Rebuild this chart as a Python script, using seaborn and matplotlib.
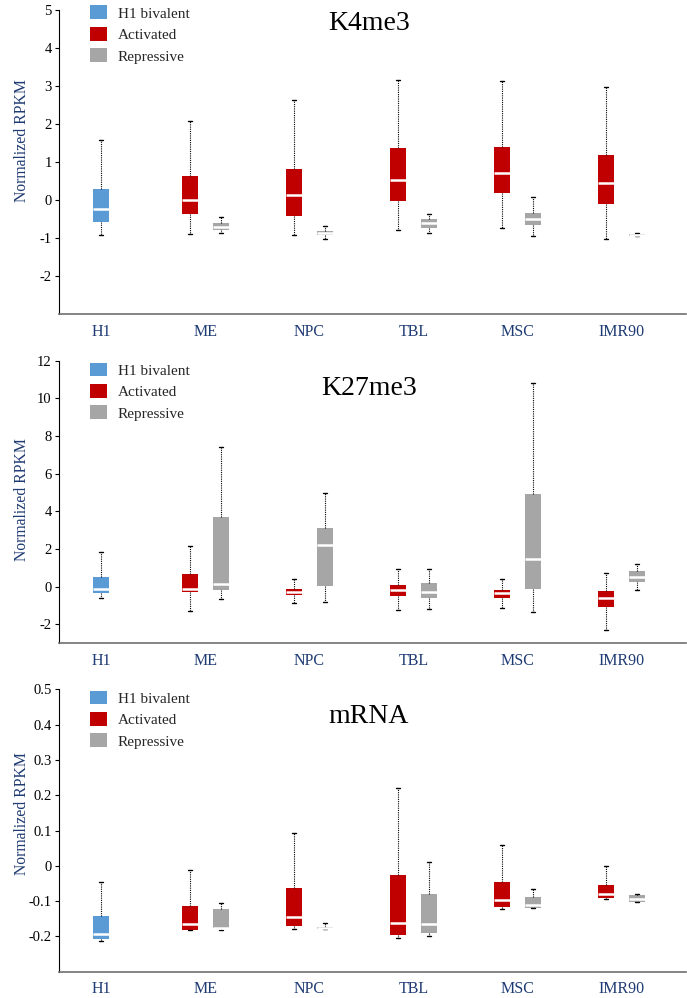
import numpy as np
import pandas as pd
import matplotlib
matplotlib.use("Agg")
import matplotlib.pyplot as plt
from matplotlib.patches import Patch
import seaborn as sns

# ---------------- data ----------------
CELLS = ["H1", "ME", "NPC", "TBL", "MSC", "IMR90"]
DIFF_CELLS = ["ME", "NPC", "TBL", "MSC", "IMR90"]
TYPES = ["H1 bivalent", "Activated", "Repressive"]
COLORS = ["#5B9BD5", "#C00000", "#A6A6A6"]
TITLES = ["K4me3", "K27me3", "mRNA"]

# five-number summaries: [lower whisker, Q1, median, Q3, upper whisker]
K4_H1 = [-0.91, -0.57, -0.24, 0.29, 1.57]
K4_ACT = [[-0.89, -0.37, 0.00, 0.63, 2.08],
          [-0.91, -0.41, 0.14, 0.81, 2.62],
          [-0.79, -0.02, 0.52, 1.36, 3.15],
          [-0.74, 0.19, 0.71, 1.39, 3.14],
          [-1.02, -0.10, 0.45, 1.18, 2.97]]
K4_REP = [[-0.87, -0.78, -0.70, -0.60, -0.44],
          [-1.03, -0.91, -0.86, -0.81, -0.69],
          [-0.87, -0.73, -0.61, -0.50, -0.37],
          [-0.95, -0.67, -0.50, -0.34, 0.09],
          [-0.96, -0.94, -0.91, -0.89, -0.88]]

K27_H1 = [-0.60, -0.35, -0.14, 0.53, 1.87]
K27_ACT = [[-1.29, -0.30, -0.11, 0.69, 2.17],
           [-0.87, -0.46, -0.30, -0.11, 0.41],
           [-1.24, -0.51, -0.18, 0.11, 0.92],
           [-1.11, -0.57, -0.35, -0.16, 0.41],
           [-2.28, -1.08, -0.60, -0.21, 0.71]]
K27_REP = [[-0.67, -0.19, 0.14, 3.71, 7.44],
           [-0.81, 0.02, 2.23, 3.13, 4.97],
           [-1.18, -0.62, -0.27, 0.21, 0.97],
           [-1.34, -0.12, 1.48, 4.93, 10.83],
           [-0.16, 0.23, 0.51, 0.85, 1.20]]

MRNA_H1 = [-0.212, -0.207, -0.193, -0.142, -0.045]
MRNA_ACT = [[-0.183, -0.181, -0.165, -0.114, -0.012],
            [-0.179, -0.171, -0.145, -0.063, 0.092],
            [-0.204, -0.196, -0.163, -0.026, 0.220],
            [-0.121, -0.116, -0.098, -0.046, 0.059],
            [-0.094, -0.090, -0.080, -0.054, -0.001]]
MRNA_REP = [[-0.181, -0.177, -0.176, -0.122, -0.104],
            [-0.180, -0.178, -0.176, -0.172, -0.162],
            [-0.200, -0.190, -0.165, -0.080, 0.010],
            [-0.120, -0.119, -0.112, -0.088, -0.065],
            [-0.102, -0.102, -0.094, -0.083, -0.081]]

Y_LIMS = [(-3, 5), (-3, 12), (-0.3, 0.5)]
Y_TICKS = [[-2, -1, 0, 1, 2, 3, 4, 5],
           [-2, 0, 2, 4, 6, 8, 10, 12],
           [-0.2, -0.1, 0, 0.1, 0.2, 0.3, 0.4, 0.5]]
Y_TICKLABELS = [["-2", "-1", "0", "1", "2", "3", "4", "5"],
                ["-2", "0", "2", "4", "6", "8", "10", "12"],
                ["-0.2", "-0.1", "0", "0.1", "0.2", "0.3", "0.4", "0.5"]]

PANEL_DATA = [(K4_H1, K4_ACT, K4_REP),
              (K27_H1, K27_ACT, K27_REP),
              (MRNA_H1, MRNA_ACT, MRNA_REP)]


def build_frame(h1, act, rep):
    rows = [("H1", TYPES[0], v) for v in h1]
    for cell, box in zip(DIFF_CELLS, act):
        rows += [(cell, TYPES[1], v) for v in box]
    for cell, box in zip(DIFF_CELLS, rep):
        rows += [(cell, TYPES[2], v) for v in box]
    return pd.DataFrame(rows, columns=["cell", "type", "value"])


# ---------------- style ----------------
sns.set_style("white")
plt.rcParams["font.family"] = ["Liberation Serif", "DejaVu Serif"]
plt.rcParams["axes.unicode_minus"] = False

W, H = 687, 998
fig = plt.figure(figsize=(W / 100, H / 100), dpi=100)

NAVY = "#1F3B73"
# axes boxes in pixels: (top, bottom)
AX_PIX = [(10, 314), (360.7, 643.3), (689.3, 971.7)]
LEFT_PX, RIGHT_PX = 58.7, 686
YLAB_Y = [0.569, 0.507, 0.560]
TITLE_BASE = [30, 395, 723]
LEG_TOP = [5.5, 362.5, 690.5]

common = dict(order=CELLS, whis=(0, 100), showfliers=False, saturation=1,
              capwidths=0.04,
              boxprops=dict(linewidth=0),
              medianprops=dict(color="white", linewidth=1.8),
              whiskerprops=dict(color="black", linestyle=(0, (1, 1)), linewidth=0.8),
              capprops=dict(color="black", linewidth=1.0))

for i in range(3):
    top, bot = AX_PIX[i]
    ax = fig.add_axes([LEFT_PX / W, 1 - bot / H, (RIGHT_PX - LEFT_PX) / W, (bot - top) / H])
    df = build_frame(*PANEL_DATA[i])

    sns.boxplot(data=df[df["type"] == TYPES[0]], x="cell", y="value",
                color=COLORS[0], width=0.154, ax=ax, **common)
    sns.boxplot(data=df[df["type"] != TYPES[0]], x="cell", y="value",
                hue="type", hue_order=TYPES[1:], palette=COLORS[1:],
                width=0.596, gap=0.483, dodge=True, legend=False, ax=ax, **common)

    ax.set_xlim(-0.41, 5.616)
    ax.set_ylim(*Y_LIMS[i])
    ax.set_yticks(Y_TICKS[i])
    ax.set_yticklabels(Y_TICKLABELS[i])
    ax.set_xlabel("")
    ax.set_ylabel("Normalized RPKM", color=NAVY, fontsize=11.3)
    ax.yaxis.set_label_coords(-0.046, YLAB_Y[i])

    ax.tick_params(axis="y", labelsize=10.5, length=3, width=0.8, direction="out",
                   left=True, pad=2, colors="black")
    ax.tick_params(axis="x", labelsize=11.5, length=0, pad=7, labelcolor=NAVY)

    for s in ["top", "right"]:
        ax.spines[s].set_visible(False)
    ax.spines["left"].set_color("black")
    ax.spines["left"].set_linewidth(0.8)
    ax.spines["bottom"].set_color("#707070")
    ax.spines["bottom"].set_linewidth(1.2)

    handles = [Patch(facecolor=c, edgecolor="none") for c in COLORS]
    ax.legend(handles, TYPES, loc="upper left",
              bbox_to_anchor=(90 / W, 1 - LEG_TOP[i] / H), bbox_transform=fig.transFigure,
              frameon=False, fontsize=11, handlelength=1.1, handleheight=1.0,
              handletextpad=0.7, labelspacing=0.42, borderpad=0, borderaxespad=0)

    fig.text(369 / W, 1 - TITLE_BASE[i] / H, TITLES[i], ha="center", va="baseline",
             fontsize=20, color="black")

fig.savefig("out.png", dpi=100)
